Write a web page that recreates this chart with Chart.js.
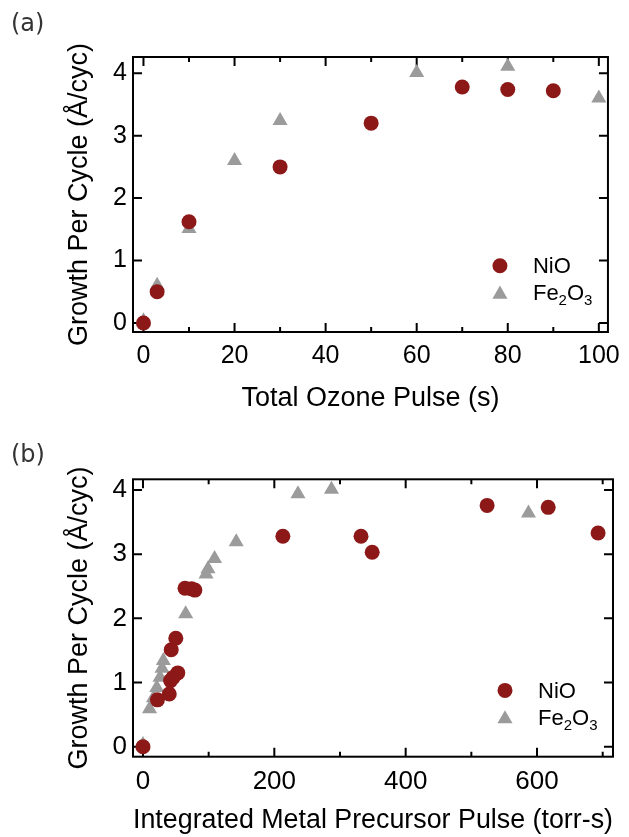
<!DOCTYPE html>
<html>
<head>
<meta charset="utf-8">
<script src="https://cdn.jsdelivr.net/npm/chart.js@4.4.0/dist/chart.umd.min.js"></script>
<style>
  html, body { margin: 0; padding: 0; background: #fff; }
  #page { position: relative; width: 629px; height: 837px; overflow: hidden; }
  .panel { position: absolute; left: 0; width: 629px; }
  .tag { position: absolute; left: 11px; font: 24px "DejaVu Sans"; line-height: 24px; color: #333; z-index: 2; }
</style>
</head>
<body>
<div id="page">
  <div class="panel" style="top:0;height:418px"><canvas id="chartA" width="629" height="418"></canvas></div>
  <div class="panel" style="top:418px;height:419px"><canvas id="chartB" width="629" height="419"></canvas></div>
  <div class="tag" style="top:11px">(a)</div>
  <div class="tag" style="top:442px">(b)</div>
</div>
<script>
// tick values
const xTicksA = [0, 20, 40, 60, 80, 100];
const xMinorA = [10, 30, 50, 70, 90];
const xTicksB = [0, 200, 400, 600];
const xMinorB = [100, 300, 500, 700];
const yTicks = [0, 1, 2, 3, 4];

const seriesNames = ['NiO', 'Fe_2O_3'];

// (a) growth vs total ozone pulse
const ozoneNiOX = [0, 3, 10, 30, 50, 70, 80, 90];
const ozoneNiOY = [0.0, 0.5, 1.62, 2.5, 3.2, 3.78, 3.74, 3.72];
const ozoneFeX = [0, 3, 10, 20, 30, 60, 80, 100];
const ozoneFeY = [0.03, 0.6, 1.51, 2.6, 3.24, 4.01, 4.11, 3.6];

// (b) growth vs integrated metal precursor pulse
const precNiOX = [0, 22, 40, 42, 46, 53, 43, 50, 64, 74, 79, 213, 332, 349, 524, 617, 693];
const precNiOY = [0.0, 0.73, 0.82, 1.03, 1.08, 1.15, 1.51, 1.69, 2.47, 2.46, 2.44, 3.28, 3.28, 3.03, 3.76, 3.73, 3.33];
const precFeX = [0, 10, 16, 21, 26, 29, 31, 65, 96, 99, 109, 142, 236, 287, 587];
const precFeY = [0.03, 0.59, 0.76, 0.92, 1.08, 1.22, 1.34, 2.07, 2.69, 2.77, 2.93, 3.19, 3.94, 4.01, 3.64];

const RED = '#8c1818';
const GREY = '#9b9b9b';
const FONT = 'Liberation Sans, Arial, sans-serif';

const pts = (xs, ys) => xs.map((x, i) => ({ x: x, y: ys[i] }));

// box + inward ticks on all four sides
const frameTicks = {
    id: 'frameTicks',
    beforeDatasetsDraw(chart, args, o) {
        const { ctx, chartArea: a, scales: { x, y } } = chart;
        ctx.save();
        ctx.strokeStyle = '#000';
        ctx.lineWidth = 2;
        ctx.beginPath();
        const xMark = (v, len) => {
            const px = x.getPixelForValue(v);
            ctx.moveTo(px, a.bottom); ctx.lineTo(px, a.bottom - len);
            ctx.moveTo(px, a.top); ctx.lineTo(px, a.top + len);
        };
        o.xMajor.forEach(v => xMark(v, 9));
        o.xMinor.forEach(v => xMark(v, 5));
        o.yMajor.forEach(v => {
            const py = y.getPixelForValue(v);
            ctx.moveTo(a.left, py); ctx.lineTo(a.left + 9, py);
            ctx.moveTo(a.right, py); ctx.lineTo(a.right - 9, py);
        });
        ctx.stroke();
        ctx.strokeRect(a.left, a.top, a.right - a.left, a.bottom - a.top);
        ctx.restore();
    }
};

// text with _n subscripts
function drawLabel(ctx, text, x, base) {
    const parts = text.split(/_(\d)/);
    parts.forEach((p, i) => {
        if (!p) return;
        const sub = i % 2 === 1;
        ctx.font = (sub ? '15px ' : '22px ') + FONT;
        ctx.fillText(p, x, sub ? base + 5 : base);
        x += ctx.measureText(p).width;
    });
}

const insideLegend = {
    id: 'insideLegend',
    afterDatasetsDraw(chart) {
        const { ctx, chartArea: a } = chart;
        ctx.save();
        chart.data.datasets.forEach((ds, i) => {
            const rowY = a.bottom - 66.3 + i * 26.6;
            const markY = ds.pointStyle === 'triangle' ? rowY + 2 : rowY;
            ctx.fillStyle = ds.backgroundColor;
            Chart.helpers.drawPoint(ctx, {
                pointStyle: ds.pointStyle, radius: ds.pointRadius, rotation: 0, borderWidth: 0
            }, a.right - 108, markY);
            ctx.fillStyle = '#000';
            ctx.textBaseline = 'alphabetic';
            ctx.textAlign = 'left';
            drawLabel(ctx, seriesNames[i], a.right - 75, rowY + 7.5);
        });
        ctx.restore();
    }
};

function makeChart(id, p) {
    return new Chart(document.getElementById(id), {
        type: 'scatter',
        data: {
            datasets: [{
                label: seriesNames[0],
                data: pts(p.niX, p.niY),
                pointStyle: 'circle',
                pointRadius: 7.5,
                backgroundColor: RED,
                borderWidth: 0,
                clip: false
            }, {
                label: seriesNames[1],
                data: pts(p.feX, p.feY),
                pointStyle: 'triangle',
                pointRadius: 8.7,
                backgroundColor: GREY,
                borderWidth: 0,
                clip: false
            }]
        },
        plugins: [frameTicks, insideLegend],
        options: {
            responsive: false,
            animation: false,
            events: [],
            layout: { padding: { top: p.padTop, right: 16, left: 0, bottom: 0 } },
            plugins: {
                legend: { display: false },
                tooltip: { enabled: false },
                frameTicks: { xMajor: p.xTicks, xMinor: p.xMinor, yMajor: yTicks }
            },
            scales: {
                x: {
                    type: 'linear',
                    min: p.xMin,
                    max: p.xMax,
                    afterBuildTicks: s => { s.ticks = p.xTicks.map(v => ({ value: v })); },
                    afterFit: s => { s.height = p.xHeight; },
                    grid: { display: false, drawTicks: false },
                    border: { display: false },
                    ticks: {
                        padding: p.xPad,
                        autoSkip: false,
                        maxRotation: 0,
                        color: '#000',
                        font: { family: FONT, size: p.tickSize }
                    },
                    title: {
                        display: true,
                        text: p.xTitle,
                        color: '#000',
                        font: { family: FONT, size: 27 },
                        padding: { top: 0, bottom: p.xTitlePad }
                    }
                },
                y: {
                    min: p.yMin,
                    max: p.yMax,
                    afterBuildTicks: s => { s.ticks = yTicks.map(v => ({ value: v })); },
                    afterFit: s => { s.width = 133; },
                    grid: { display: false, drawTicks: false },
                    border: { display: false },
                    ticks: {
                        padding: 6,
                        color: '#000',
                        font: { family: FONT, size: p.tickSize }
                    },
                    title: {
                        display: true,
                        text: 'Growth Per Cycle (Å/cyc)',
                        color: '#000',
                        font: { family: FONT, size: 27 },
                        padding: { top: 63.8, bottom: 0 }
                    }
                }
            }
        }
    });
}

makeChart('chartA', {
    niX: ozoneNiOX, niY: ozoneNiOY, feX: ozoneFeX, feY: ozoneFeY,
    xMin: -2.3, xMax: 102, yMin: -0.145, yMax: 4.26,
    xTicks: xTicksA, xMinor: xMinorA,
    padTop: 57, xHeight: 86, xPad: 9, xTitlePad: 2.9, tickSize: 25,
    xTitle: 'Total Ozone Pulse (s)'
});

makeChart('chartB', {
    niX: precNiOX, niY: precNiOY, feX: precFeX, feY: precFeY,
    xMin: -15.2, xMax: 715.7, yMin: -0.156, yMax: 4.167,
    xTicks: xTicksB, xMinor: xMinorB,
    padTop: 61.3, xHeight: 80.3, xPad: 10, xTitlePad: 0.2, tickSize: 26,
    xTitle: 'Integrated Metal Precursor Pulse (torr-s)'
});
</script>
</body>
</html>
